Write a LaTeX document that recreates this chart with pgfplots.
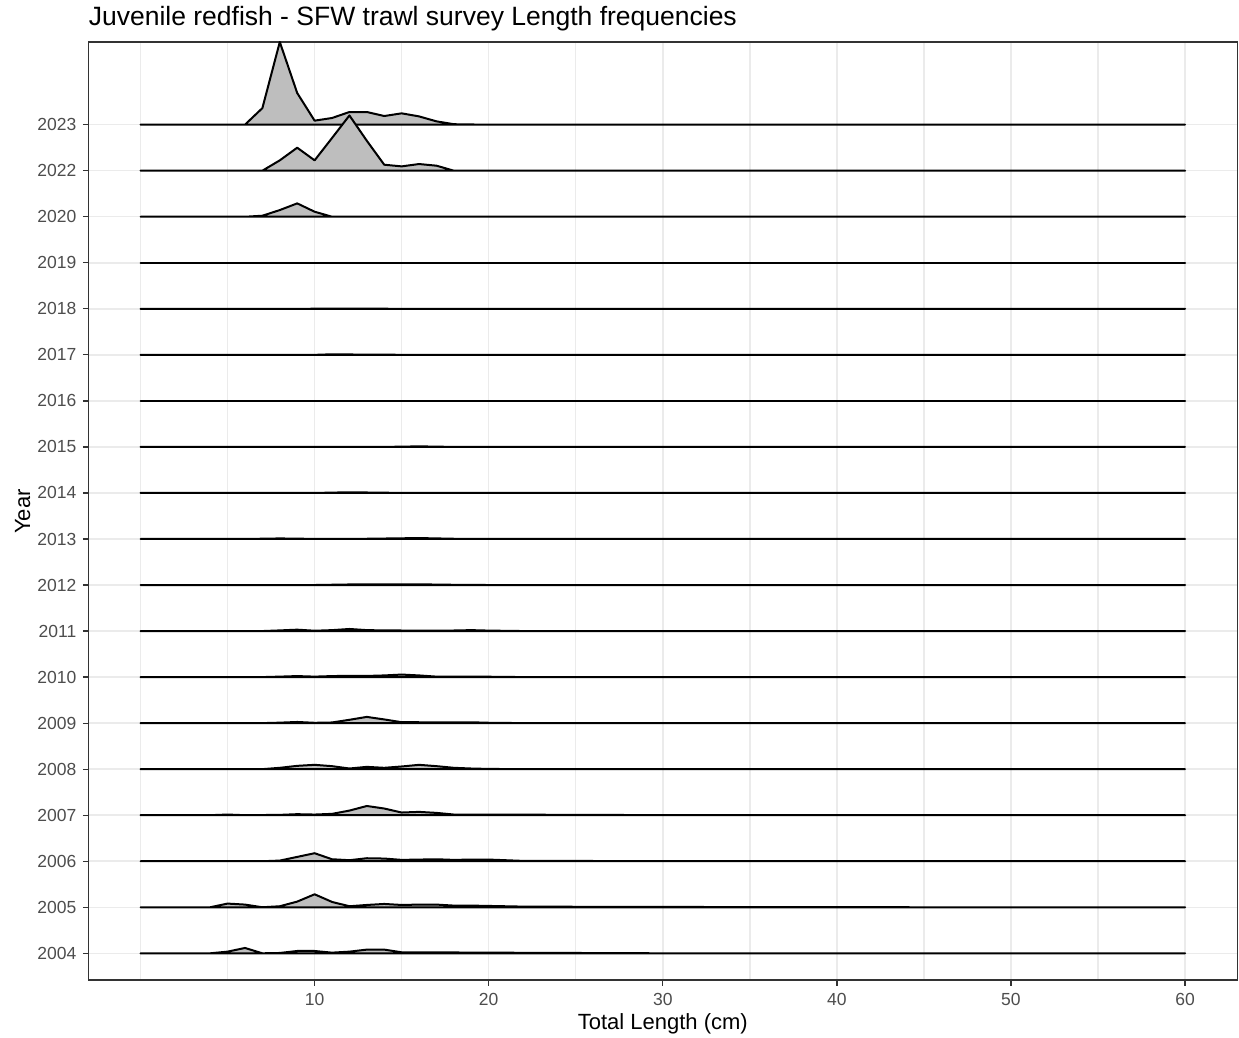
\documentclass[border=0pt]{standalone}
\usepackage{pgfplots}
\pgfplotsset{compat=1.18}
\usepackage{fontspec}
\setmainfont{Liberation Sans}
\definecolor{ridge}{HTML}{BEBEBE}
\definecolor{gridc}{HTML}{EBEBEB}
\definecolor{axc}{HTML}{333333}
\definecolor{tickc}{HTML}{4D4D4D}
\pgfplotsset{ridgestyle/.style={draw=black, line width=0.8pt, line join=round, fill=ridge}}
\begin{document}
\begin{tikzpicture}
\begin{axis}[
  at={(0pt,0pt)}, anchor=south west,
  scale only axis, width=459.6pt, height=375.2pt,
  xmin=-3, xmax=63, ymin=0.42, ymax=20.796,
  xtick={10,20,30,40,50,60},
  minor xtick={0,5,15,25,35,45,55},
  ytick={1,...,19},
  yticklabels={2004,2005,2006,2007,2008,2009,2010,2011,2012,2013,2014,2015,2016,2017,2018,2019,2020,2022,2023},
  xmajorgrids, xminorgrids, ymajorgrids,
  major grid style={gridc, line width=0.6pt},
  minor grid style={gridc, line width=0.6pt},
  axis line style={axc, line width=0.6pt},
  tick align=outside,
  major tick length=2.2pt, minor tick length=0pt,
  tick style={axc, line width=0.5pt},
  xtick pos=left, ytick pos=left,
  ticklabel style={font=\fontsize{7}{8}\selectfont, text=tickc},
  xticklabel style={anchor=north, inner sep=0pt, yshift=-3pt},
  yticklabel style={anchor=east, inner sep=0pt, xshift=-2.4pt},
  /pgf/number format/assume math mode=true,
]
% 2023
\addplot[ridgestyle] table[row sep=\\, x=x, y expr=\thisrow{h}+19] {
x h\\ 0 0\\ 6 0\\ 7 0.36\\ 8 1.796\\ 9 0.688\\ 10 0.087\\ 11 0.145\\ 12 0.275\\ 13 0.275\\ 14 0.188\\ 15 0.246\\ 16 0.18\\ 17 0.072\\ 18 0.01\\ 19 0.004\\ 21 0\\ 60 0\\
} -- cycle;
% 2022
\addplot[ridgestyle] table[row sep=\\, x=x, y expr=\thisrow{h}+18] {
x h\\ 0 0\\ 7 0\\ 8 0.225\\ 9 0.5\\ 10 0.225\\ 11 0.71\\ 12 1.2\\ 13 0.65\\ 14 0.13\\ 15 0.094\\ 16 0.145\\ 17 0.109\\ 18 0\\ 60 0\\
} -- cycle;
% 2020
\addplot[ridgestyle] table[row sep=\\, x=x, y expr=\thisrow{h}+17] {
x h\\ 0 0\\ 6 0\\ 7 0.022\\ 8 0.145\\ 9 0.29\\ 10 0.109\\ 11 0\\ 60 0\\
} -- cycle;
% 2019
\addplot[ridgestyle] table[row sep=\\, x=x, y expr=\thisrow{h}+16] {
x h\\ 0 0\\ 60 0\\
} -- cycle;
% 2018
\addplot[ridgestyle] table[row sep=\\, x=x, y expr=\thisrow{h}+15] {
x h\\ 0 0\\ 9 0\\ 12 0.005\\ 15 0\\ 60 0\\
} -- cycle;
% 2017
\addplot[ridgestyle] table[row sep=\\, x=x, y expr=\thisrow{h}+14] {
x h\\ 0 0\\ 10 0\\ 11 0.012\\ 12 0.008\\ 14 0.003\\ 16 0\\ 60 0\\
} -- cycle;
% 2016
\addplot[ridgestyle] table[row sep=\\, x=x, y expr=\thisrow{h}+13] {
x h\\ 0 0\\ 60 0\\
} -- cycle;
% 2015
\addplot[ridgestyle] table[row sep=\\, x=x, y expr=\thisrow{h}+12] {
x h\\ 0 0\\ 14 0\\ 16 0.012\\ 18 0\\ 60 0\\
} -- cycle;
% 2014
\addplot[ridgestyle] table[row sep=\\, x=x, y expr=\thisrow{h}+11] {
x h\\ 0 0\\ 10 0\\ 12 0.015\\ 14 0.005\\ 16 0\\ 60 0\\
} -- cycle;
% 2013
\addplot[ridgestyle] table[row sep=\\, x=x, y expr=\thisrow{h}+10] {
x h\\ 0 0\\ 6 0\\ 8 0.012\\ 10 0.002\\ 13 0.005\\ 16 0.02\\ 18 0.005\\ 20 0\\ 60 0\\
} -- cycle;
% 2012
\addplot[ridgestyle] table[row sep=\\, x=x, y expr=\thisrow{h}+9] {
x h\\ 0 0\\ 10 0\\ 12 0.012\\ 14 0.015\\ 16 0.015\\ 18 0.005\\ 20 0\\ 60 0\\
} -- cycle;
% 2011
\addplot[ridgestyle] table[row sep=\\, x=x, y expr=\thisrow{h}+8] {
x h\\ 0 0\\ 7 0\\ 8 0.014\\ 9 0.03\\ 10 0.007\\ 11 0.02\\ 12 0.045\\ 13 0.02\\ 14 0.014\\ 15 0.012\\ 18 0.012\\ 19 0.02\\ 20 0.01\\ 22 0\\ 60 0\\
} -- cycle;
% 2010
\addplot[ridgestyle] table[row sep=\\, x=x, y expr=\thisrow{h}+7] {
x h\\ 0 0\\ 7 0\\ 8 0.01\\ 9 0.022\\ 10 0.01\\ 11 0.022\\ 12 0.028\\ 13 0.025\\ 14 0.036\\ 15 0.055\\ 16 0.036\\ 17 0.01\\ 18 0.012\\ 20 0.008\\ 22 0\\ 60 0\\
} -- cycle;
% 2009
\addplot[ridgestyle] table[row sep=\\, x=x, y expr=\thisrow{h}+6] {
x h\\ 0 0\\ 7 0\\ 8 0.01\\ 9 0.025\\ 10 0.007\\ 11 0.014\\ 12 0.072\\ 13 0.135\\ 14 0.08\\ 15 0.02\\ 17 0.018\\ 19 0.018\\ 20 0.008\\ 22 0\\ 60 0\\
} -- cycle;
% 2008
\addplot[ridgestyle] table[row sep=\\, x=x, y expr=\thisrow{h}+5] {
x h\\ 0 0\\ 7 0\\ 8 0.029\\ 9 0.072\\ 10 0.094\\ 11 0.065\\ 12 0.014\\ 13 0.05\\ 14 0.029\\ 15 0.058\\ 16 0.094\\ 17 0.065\\ 18 0.029\\ 19 0.014\\ 20 0.005\\ 22 0\\ 60 0\\
} -- cycle;
% 2007
\addplot[ridgestyle] table[row sep=\\, x=x, y expr=\thisrow{h}+4] {
x h\\ 0 0\\ 4 0\\ 5 0.014\\ 6 0\\ 8 0.007\\ 9 0.022\\ 10 0.014\\ 11 0.029\\ 12 0.1\\ 13 0.2\\ 14 0.145\\ 15 0.058\\ 16 0.072\\ 17 0.05\\ 18 0.014\\ 23 0.01\\ 27 0.005\\ 32 0\\ 60 0\\
} -- cycle;
% 2006
\addplot[ridgestyle] table[row sep=\\, x=x, y expr=\thisrow{h}+3] {
x h\\ 0 0\\ 7 0\\ 8 0.014\\ 9 0.094\\ 10 0.174\\ 11 0.043\\ 12 0.022\\ 13 0.065\\ 14 0.058\\ 15 0.029\\ 16 0.036\\ 17 0.043\\ 18 0.029\\ 19 0.036\\ 20 0.036\\ 22 0.007\\ 30 0.003\\ 40 0\\ 60 0\\
} -- cycle;
% 2005
\addplot[ridgestyle] table[row sep=\\, x=x, y expr=\thisrow{h}+2] {
x h\\ 0 0\\ 4 0\\ 5 0.08\\ 6 0.058\\ 7 0\\ 8 0.022\\ 9 0.123\\ 10 0.282\\ 11 0.116\\ 12 0.022\\ 13 0.05\\ 14 0.072\\ 15 0.05\\ 16 0.058\\ 17 0.058\\ 18 0.036\\ 19 0.036\\ 20 0.029\\ 22 0.014\\ 26 0.01\\ 35 0.004\\ 45 0\\ 60 0\\
} -- cycle;
% 2004
\addplot[ridgestyle] table[row sep=\\, x=x, y expr=\thisrow{h}+1] {
x h\\ 0 0\\ 4 0\\ 5 0.036\\ 6 0.116\\ 7 0\\ 8 0.007\\ 9 0.05\\ 10 0.05\\ 11 0.014\\ 12 0.036\\ 13 0.08\\ 14 0.08\\ 15 0.022\\ 16 0.022\\ 20 0.014\\ 25 0.007\\ 30 0\\ 60 0\\
} -- cycle;
\end{axis}
\node[anchor=base west, inner sep=0pt, font=\fontsize{10.6}{12}\selectfont] at (0pt,381.7pt) {Juvenile redfish - SFW trawl survey Length frequencies};
\node[anchor=base, inner sep=0pt, font=\fontsize{8.8}{10}\selectfont] at (229.8pt,-19.7pt) {Total Length (cm)};
\node[anchor=base, inner sep=0pt, rotate=90, font=\fontsize{8.8}{10}\selectfont] at (-23.3pt,187.4pt) {Year};
\pgfresetboundingbox
\useasboundingbox (-35.32pt,-23.2pt) rectangle (460.28pt,392pt);
\end{tikzpicture}
\end{document}
